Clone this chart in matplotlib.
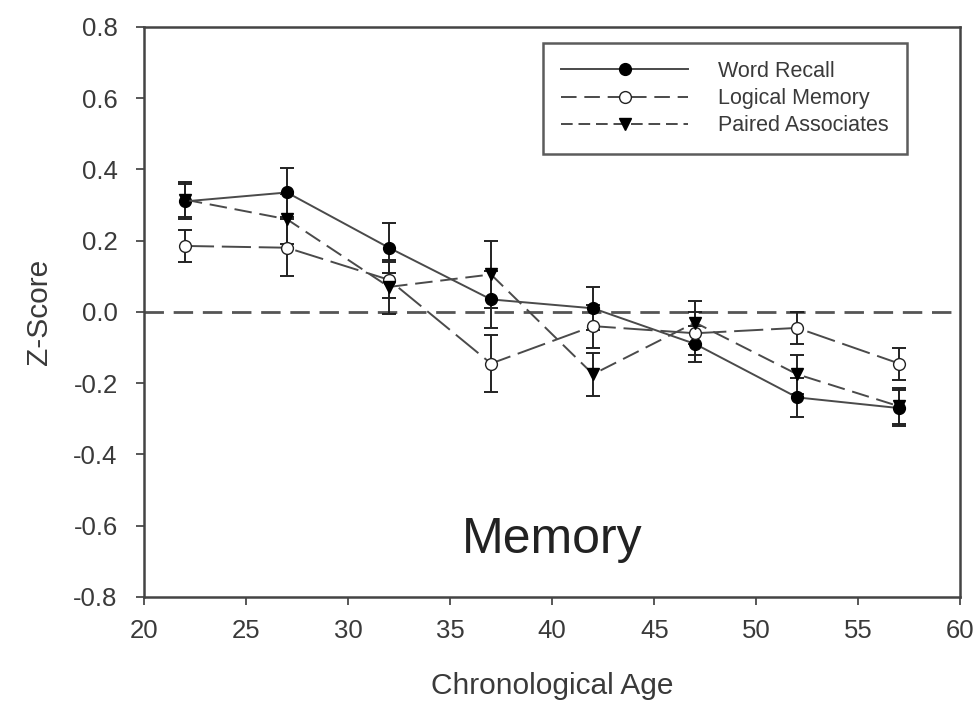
import matplotlib
matplotlib.use('Agg')
import matplotlib.pyplot as plt
from matplotlib.lines import Line2D

plt.rcParams['font.family'] = ['Liberation Sans', 'DejaVu Sans']

# Age groups and memory z-scores (mean +/- SE)
ages = [22, 27, 32, 37, 42, 47, 52, 57]

word_recall = [0.31, 0.335, 0.18, 0.035, 0.01, -0.09, -0.24, -0.27]
word_recall_err = [0.05, 0.07, 0.07, 0.08, 0.06, 0.05, 0.055, 0.05]

logical_memory = [0.185, 0.18, 0.09, -0.145, -0.04, -0.06, -0.045, -0.145]
logical_memory_err = [0.045, 0.08, 0.05, 0.08, 0.06, 0.06, 0.045, 0.045]

paired_assoc = [0.315, 0.26, 0.07, 0.105, -0.175, -0.03, -0.175, -0.265]
paired_assoc_err = [0.05, 0.07, 0.075, 0.095, 0.06, 0.06, 0.055, 0.05]

x_ticks = [20, 25, 30, 35, 40, 45, 50, 55, 60]
y_ticks = [-0.8, -0.6, -0.4, -0.2, 0.0, 0.2, 0.4, 0.6, 0.8]

line_col = '#4a4a4a'
text_col = '#3a3a3a'

fig = plt.figure(figsize=(9.8, 7.04), dpi=100)
ax = fig.add_axes([0.147, 0.152, 0.833, 0.81])

# zero reference line
ax.plot([20, 60], [0, 0], color='#555555', lw=2, dashes=(7, 3.5), zorder=1)

common = dict(color=line_col, lw=1.4, ecolor='#222222', elinewidth=1.4,
              capsize=5, capthick=1.4, markersize=8.5, zorder=3)

ax.errorbar(ages, word_recall, yerr=word_recall_err, marker='o',
            mfc='black', mec='black', ls='-', **common)
ax.errorbar(ages, logical_memory, yerr=logical_memory_err, marker='o',
            mfc='white', mec='#222222', ls=(0, (15, 4)), **common)
ax.errorbar(ages, paired_assoc, yerr=paired_assoc_err, marker='v',
            mfc='black', mec='black', ls=(0, (9, 4)), **common)

ax.set_xlim(20, 60)
ax.set_ylim(-0.8, 0.8)
ax.set_xticks(x_ticks)
ax.set_yticks(y_ticks)
ax.set_yticklabels(['%.1f' % v if v != 0 else '0.0' for v in y_ticks])
ax.tick_params(direction='out', length=6, width=1.3, colors=line_col,
               labelcolor=text_col, labelsize=18.5)
ax.tick_params(axis='y', pad=13)
ax.tick_params(axis='x', pad=10)
for s in ax.spines.values():
    s.set_color('#444444')
    s.set_linewidth(1.8)

ax.set_xlabel('Chronological Age', fontsize=21.5, color=text_col)
ax.set_ylabel('Z-Score', fontsize=21.5, color=text_col)
ax.xaxis.set_label_coords(0.5, -0.131)
ax.yaxis.set_label_coords(-0.111, 0.5)

ax.text(0.5, 0.1, 'Memory', transform=ax.transAxes, ha='center', va='center',
        fontsize=36, color='#222222')

handles = [
    Line2D([], [], color=line_col, lw=1.4, ls='-', marker='o', mfc='black',
           mec='black', markersize=8.5),
    Line2D([], [], color=line_col, lw=1.4, ls=(0, (8, 4)), marker='o',
           mfc='white', mec='#222222', markersize=8.5),
    Line2D([], [], color=line_col, lw=1.4, ls=(0, (6, 3)), marker='v',
           mfc='black', mec='black', markersize=8.5),
]
leg = ax.legend(handles, ['Word Recall', 'Logical Memory', 'Paired Associates'],
                loc='upper right', bbox_to_anchor=(0.935, 0.972), fontsize=15.5,
                handlelength=5.9, handletextpad=1.4, labelspacing=0.28,
                borderpad=0.85, borderaxespad=0, frameon=True, fancybox=False)
leg.get_frame().set_edgecolor('#333333')
leg.get_frame().set_linewidth(1.8)
for t in leg.get_texts():
    t.set_color(text_col)

fig.savefig('out.png', dpi=100)
